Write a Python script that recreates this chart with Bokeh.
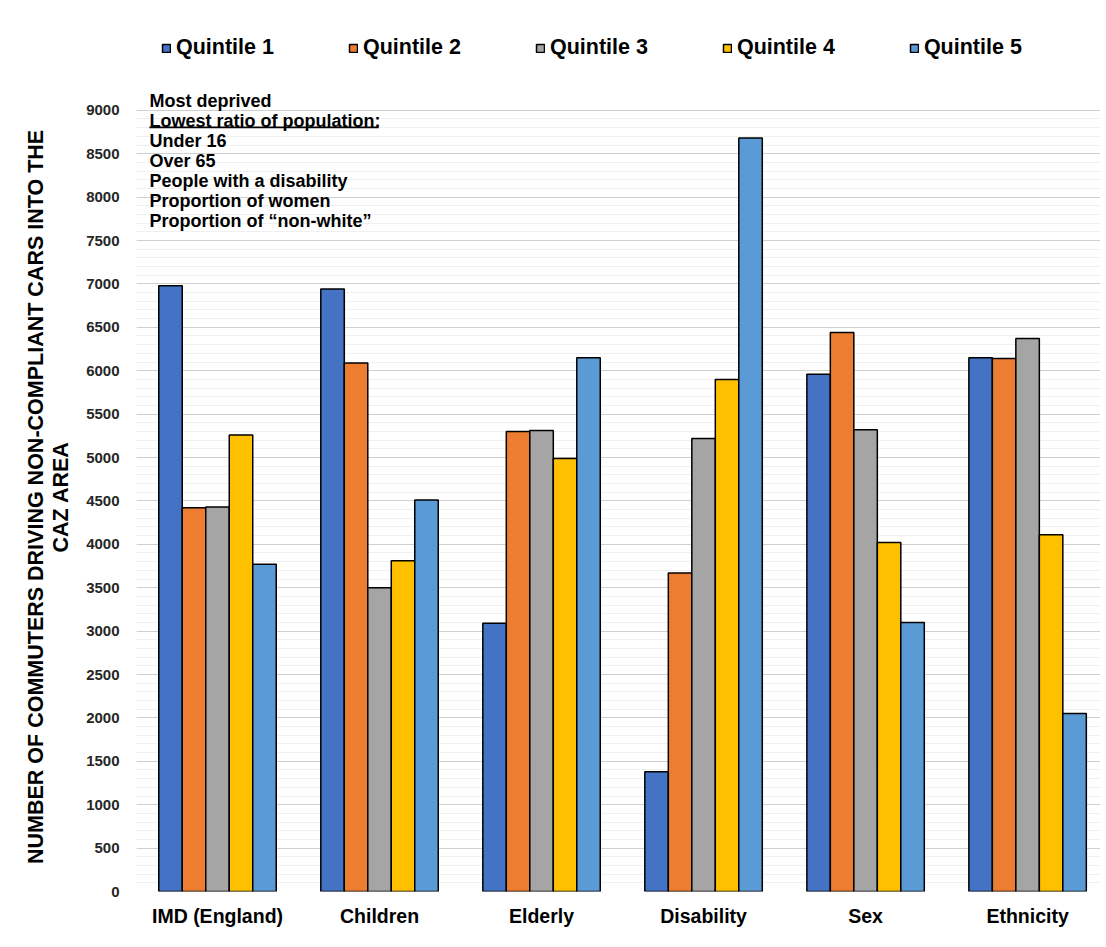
import numpy as np
from bokeh.plotting import figure
from bokeh.layouts import row
from bokeh.models import (ColumnDataSource, FixedTicker, Range1d, Label,
                          BoxAnnotation, Legend, LegendItem)
from bokeh.embed import file_html
from bokeh.resources import INLINE

# ---------------- data ----------------
categories = ["IMD (England)", "Children", "Elderly", "Disability", "Sex", "Ethnicity"]
series_names = ["Quintile 1", "Quintile 2", "Quintile 3", "Quintile 4", "Quintile 5"]
quintile_1 = [6980, 6940, 3090, 1380, 5960, 6150]
quintile_2 = [4420, 6090, 5300, 3670, 6440, 6140]
quintile_3 = [4430, 3500, 5310, 5220, 5320, 6370]
quintile_4 = [5260, 3810, 4990, 5900, 4020, 4110]
quintile_5 = [3770, 4510, 6150, 8680, 3100, 2050]
y_ticks = list(range(0, 9001, 500))
note_lines = ["Most deprived", "Lowest ratio of population:", "Under 16", "Over 65",
              "People with a disability", "Proportion of women",
              "Proportion of \u201cnon-white\u201d"]
y_title_lines = ["NUMBER OF COMMUTERS DRIVING NON-COMPLIANT CARS INTO THE",
                 "CAZ AREA"]

series = [quintile_1, quintile_2, quintile_3, quintile_4, quintile_5]
colors = ["#4472C4", "#ED7D31", "#A5A5A5", "#FFC000", "#5B9BD5"]

FONT = "Liberation Sans"
H = 940
TITLE_W = 75

# ---- narrow panel holding the rotated y-axis title ----
t = figure(width=TITLE_W, height=H, output_backend="svg", toolbar_location=None,
           x_range=Range1d(0, TITLE_W), y_range=Range1d(0, H),
           x_axis_location=None, y_axis_location=None,
           min_border=0, min_border_left=0, min_border_right=0,
           min_border_top=0, min_border_bottom=0)
t.outline_line_color = None
t.grid.visible = False
for x_pos, line in zip([35, 60], y_title_lines):
    t.add_layout(Label(x=x_pos, y=H - 519, text=line, angle=np.pi / 2,
                       text_font=FONT, text_font_style="bold",
                       text_font_size="21.5px", text_color="black",
                       text_align="center", text_baseline="middle"))

# ---- main chart ----
p = figure(width=1100 - TITLE_W, height=H, output_backend="svg", toolbar_location=None,
           x_range=Range1d(-0.5, 5.45), y_range=Range1d(0, 10150),
           min_border_left=136 - TITLE_W, min_border_right=0, min_border_top=10,
           min_border_bottom=49)
p.outline_line_color = None
p.background_fill_color = "white"
p.border_fill_color = "white"

bar_w = 0.145
idx = np.arange(len(categories))
items = []
for k, (name, vals, col) in enumerate(zip(series_names, series, colors)):
    src = ColumnDataSource(dict(x=idx + (k - 2) * bar_w, top=vals))
    r = p.vbar(x="x", top="top", width=bar_w, bottom=0, source=src,
               fill_color=col, line_color="black", line_width=1.5)
    items.append(LegendItem(label=name, renderers=[r]))

# axes
p.xaxis.ticker = FixedTicker(ticks=list(idx))
p.xaxis.major_label_overrides = {int(i): c for i, c in zip(idx, categories)}
p.xaxis.major_label_text_font = FONT
p.xaxis.major_label_text_font_style = "bold"
p.xaxis.major_label_text_font_size = "19.5px"
p.xaxis.major_label_text_color = "black"
p.xaxis.major_label_standoff = 13
p.xaxis.major_tick_out = 0
p.xaxis.major_tick_in = 0
p.xaxis.axis_line_color = None
p.xaxis.major_tick_line_color = None
p.xaxis.minor_tick_line_color = None

p.yaxis.ticker = FixedTicker(ticks=y_ticks,
                             minor_ticks=list(range(0, 9001, 100)))
p.yaxis.major_label_text_font = FONT
p.yaxis.major_label_text_font_style = "bold"
p.yaxis.major_label_text_font_size = "15px"
p.yaxis.major_label_text_color = "#262626"
p.yaxis.major_label_standoff = 13
p.yaxis.major_tick_out = 0
p.yaxis.major_tick_in = 0
p.yaxis.axis_line_color = None
p.yaxis.major_tick_line_color = None
p.yaxis.minor_tick_line_color = None

p.xgrid.grid_line_color = None
p.ygrid.grid_line_color = "#CFCFCF"
p.ygrid.grid_line_width = 1.2
p.ygrid.minor_grid_line_color = "#F0F0F0"
p.ygrid.minor_grid_line_width = 1

# legend
legend = Legend(items=items, orientation="horizontal", location="top_left",
                margin=25, padding=0, spacing=74, label_standoff=5,
                glyph_width=10, glyph_height=10,
                label_text_font=FONT, label_text_font_style="bold",
                label_text_font_size="21.5px", label_text_color="black",
                border_line_color=None, background_fill_alpha=0)
p.add_layout(legend, "center")

# note text box
x0 = -0.42
y_first = 9105
step = 230.4
for i, line in enumerate(note_lines):
    p.add_layout(Label(x=x0, y=y_first - i * step, text=line,
                       text_font=FONT, text_font_style="bold",
                       text_font_size="18px", text_color="black",
                       text_baseline="alphabetic", text_align="left"))
# underline of second line
p.add_layout(BoxAnnotation(left=x0, right=0.995,
                           top=y_first - step - 62, bottom=y_first - step - 80,
                           fill_color="black", fill_alpha=1, line_color=None))

layout = row(t, p, spacing=0)
open("out.html", "w").write(file_html(layout, INLINE))
